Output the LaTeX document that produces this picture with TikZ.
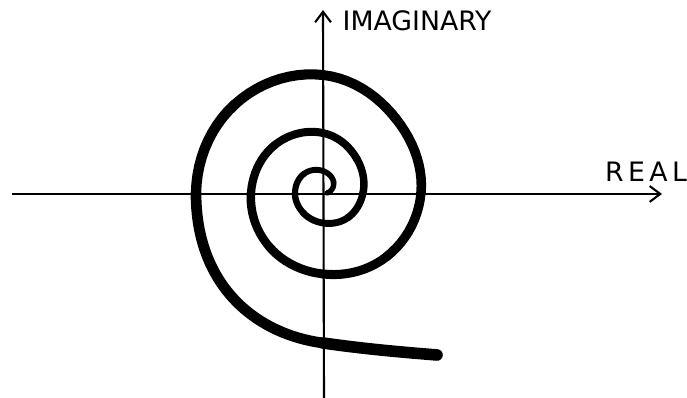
\documentclass[tikz,border=0pt]{standalone}
\usepackage{fontspec}
\setmainfont{DejaVu Sans}
\usetikzlibrary{arrows.meta}

\tikzset{
  axis/.style={line width=0.6pt, black},
  axislabel/.style={font=\fontsize{7.6}{9}\selectfont, inner sep=0pt},
  spiral/.style={line width=#1, black, line cap=round, line join=round}
}

\begin{document}
\begin{tikzpicture}[x=0.01cm, y=-0.01cm, >={Straight Barb[length=3pt, width=4.5pt]},
    declare function={cr(\ra,\rb,\rc,\rd,\u)=0.5*(2*\rb + (\rc-\ra)*\u
      + (2*\ra-5*\rb+4*\rc-\rd)*\u^2 + (3*\rb-\ra-3*\rc+\rd)*\u^3);}]
    % Page size
    \useasboundingbox (0,0) rectangle (687,398);

    % Axes
    \coordinate (O) at (323,193);
    \coordinate (ReStart) at (12,194);
    \coordinate (ReEnd) at (662,194);
    \coordinate (ImStart) at (324,398);
    \coordinate (ImEnd) at (323,10);
    \draw[->, axis] (ReStart) -- (ReEnd);
    \draw[->, axis] (ImStart) -- (ImEnd);

    % Axis labels
    \node[axislabel] (Re) at (646,172) {R\,E\,A\,L};
    \node[axislabel, anchor=west] (Im) at (342,21) {IMAGINARY};

    % Spiral: radius every 45 degrees, joined by Catmull-Rom pieces
    \foreach \t/\pa/\pb/\pc/\pd [count=\k, evaluate=\k as \w using 1.45+0.075*\k] in {
        0/-7/4/15/22, 45/4/15/22/27, 90/15/22/27/28, 135/22/27/28/28,
        180/27/28/28/30, 225/28/28/30/35, 270/28/30/35/40, 315/30/35/40/48,
        360/35/40/48/60, 405/40/48/60/68, 450/48/60/68/72, 495/60/68/72/76,
        540/68/72/76/81, 585/72/76/81/90, 630/76/81/90/98, 675/81/90/98/104,
        720/90/98/104/118, 765/98/104/118/125, 810/104/118/125/127,
        855/118/125/127/129}
      \draw[spiral=\w pt] plot[domain=0:1, samples=12, variable=\s]
        ({323+cr(\pa,\pb,\pc,\pd,\s)*cos(\t+45*\s)},
         {193-cr(\pa,\pb,\pc,\pd,\s)*sin(\t+45*\s)});

    % Tail
    \coordinate (S) at (196,193);
    \coordinate (T) at (323,343);
    \coordinate (E) at (437,355);
    \draw[spiral=3.05pt] (S) .. controls (196,285) and (255,334) .. (T);
    \draw[spiral=3.3pt] (T) .. controls (365,349) and (400,352) .. (E);

\end{tikzpicture}
\end{document}
